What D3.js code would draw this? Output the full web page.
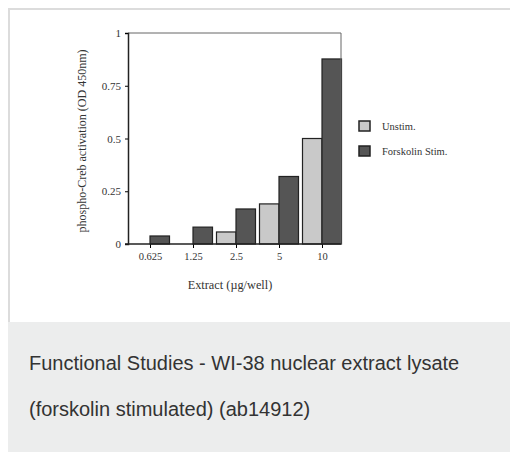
<!DOCTYPE html>
<html>
<head>
<meta charset="utf-8">
<script src="https://cdn.jsdelivr.net/npm/d3@7"></script>
<style>
  body { margin: 0; background: #fff; }
  #panel { position: absolute; left: 8px; top: 8px; width: 520px; height: 312px;
           border: 2px solid #dcdcdc; border-right: none; background: #fff; }
  #caption { position: absolute; left: 8px; top: 322px; width: 520px; height: 130px;
             background: #eceded; font-family: "Liberation Sans", Arial, sans-serif;
             font-size: 20px; color: #333; }
  #caption div { position: absolute; left: 21px; white-space: nowrap; }
  svg { position: absolute; left: 0; top: 0; }
</style>
</head>
<body>
<div id="panel"></div>
<div id="caption">
  <div style="top:30px">Functional Studies - WI-38 nuclear extract lysate</div>
  <div style="top:76px">(forskolin stimulated) (ab14912)</div>
</div>
<svg id="chart" width="510" height="320"></svg>
<script>
const categories = ["0.625", "1.25", "2.5", "5", "10"];
const unstim = [0, 0, 0.057, 0.19, 0.5];
const forskolin = [0.038, 0.08, 0.166, 0.32, 0.877];
const yTicks = [0, 0.25, 0.5, 0.75, 1];
const yTickLabels = ["0", "0.25", "0.5", "0.75", "1"];
const seriesNames = ["Unstim.", "Forskolin Stim."];
const seriesColors = ["#c9c9c9", "#555555"];

const svg = d3.select("#chart");
const font = "'Liberation Serif', 'Times New Roman', serif";

const plotLeft = 128, plotRight = 341, plotTop = 33, plotBottom = 244;
const step = 43;

const x = d3.scalePoint()
  .domain(categories)
  .range([150, 150 + step * 4]);

const y = d3.scaleLinear().domain([0, 1]).range([plotBottom, plotTop]);
const barW = 19.5;

const g = svg.append("g");

// bars
const series = [unstim, forskolin];
series.forEach((vals, si) => {
  g.selectAll(null)
    .data(vals.map((v, i) => ({ v, c: categories[i] })).filter((d) => d.v > 0))
    .join("rect")
    .attr("x", (d) => (si === 0 ? x(d.c) - barW : x(d.c)))
    .attr("y", (d) => y(d.v))
    .attr("width", barW)
    .attr("height", (d) => plotBottom - y(d.v))
    .attr("fill", seriesColors[si])
    .attr("stroke", "#222")
    .attr("stroke-width", 1.2);
});

// frame
g.append("path")
  .attr("d", `M${plotLeft},${plotTop}H${plotRight}V${plotBottom}`)
  .attr("fill", "none")
  .attr("stroke", "#666")
  .attr("stroke-width", 1);

// y axis
const yAxis = d3.axisLeft(y)
  .tickValues(yTicks)
  .tickFormat((d, i) => yTickLabels[i])
  .tickSize(3)
  .tickPadding(4);
const ya = g.append("g").attr("transform", `translate(${plotLeft},0)`).call(yAxis);
ya.select(".domain").attr("stroke", "#222").attr("stroke-width", 1.5);
ya.selectAll("text").attr("font-family", font).attr("font-size", 11).attr("fill", "#333");

// x axis
const xAxis = d3.axisBottom(x).tickSize(4).tickPadding(5).tickSizeOuter(0);
const xa = g.append("g").attr("transform", `translate(0,${plotBottom})`).call(xAxis);
xa.select(".domain").remove();
xa.selectAll("text").attr("font-family", font).attr("font-size", 10.5).attr("fill", "#333");
g.append("line")
  .attr("x1", plotLeft - 3).attr("x2", plotRight)
  .attr("y1", plotBottom).attr("y2", plotBottom)
  .attr("stroke", "#222").attr("stroke-width", 1.5);

// axis titles
g.append("text")
  .attr("x", 230).attr("y", 289)
  .attr("text-anchor", "middle")
  .attr("font-family", font).attr("font-size", 12.3).attr("fill", "#333")
  .text("Extract (\u00b5g/well)");

g.append("text")
  .attr("transform", `translate(86,141) rotate(-90)`)
  .attr("text-anchor", "middle")
  .attr("font-family", font).attr("font-size", 12).attr("fill", "#333")
  .text("phospho-Creb activation (OD 450nm)");

// legend
const legend = g.append("g").attr("transform", "translate(359,121)");
seriesNames.forEach((name, i) => {
  legend.append("rect")
    .attr("x", 0).attr("y", i * 25)
    .attr("width", 11).attr("height", 10)
    .attr("fill", seriesColors[i])
    .attr("stroke", "#222").attr("stroke-width", 1.5);
  legend.append("text")
    .attr("x", 23).attr("y", i * 25 + 9)
    .attr("font-family", font).attr("font-size", 10.5).attr("fill", "#333")
    .text(name);
});
</script>
</body>
</html>
